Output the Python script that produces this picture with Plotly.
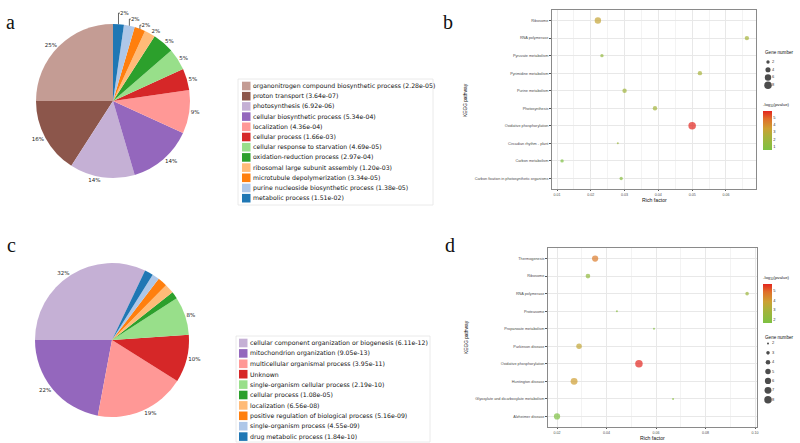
import numpy as np
import plotly.graph_objects as go

W, H = 800, 443
def px(x): return x / W
def py(y): return 1 - y / H

# ---------------- data ----------------
# panel a (pie)
labels_a = ["organonitrogen compound biosynthetic process (2.28e-05)",
            "proton transport (3.64e-07)",
            "photosynthesis (6.92e-06)",
            "cellular biosynthetic process (5.34e-04)",
            "localization (4.36e-04)",
            "cellular process (1.66e-03)",
            "cellular response to starvation (4.69e-05)",
            "oxidation-reduction process (2.97e-04)",
            "ribosomal large subunit assembly (1.20e-03)",
            "microtubule depolymerization (3.34e-05)",
            "purine nucleoside biosynthetic process (1.38e-05)",
            "metabolic process (1.51e-02)"]
values_a = [11, 7, 6, 6, 4, 2, 2, 2, 1, 1, 1, 1]
colors_a = ["#c49c94", "#8c564b", "#c5b0d5", "#9467bd", "#ff9896", "#d62728",
            "#98df8a", "#2ca02c", "#ffbb78", "#ff7f0e", "#aec7e8", "#1f77b4"]

# panel c (pie)
labels_c = ["cellular component organization or biogenesis (6.11e-12)",
            "mitochondrion organization (9.05e-13)",
            "multicellular organismal process (3.95e-11)",
            "Unknown",
            "single-organism cellular process (2.19e-10)",
            "cellular process (1.08e-05)",
            "localization (6.56e-08)",
            "positive regulation of biological process (5.16e-09)",
            "single-organism process (4.55e-09)",
            "drug metabolic process (1.84e-10)"]
values_c = [32, 22, 19, 10, 8, 1.5, 2.0, 2.0, 1.5, 1.8]
colors_c = ["#c5b0d5", "#9467bd", "#ff9896", "#d62728", "#98df8a",
            "#2ca02c", "#ffbb78", "#ff7f0e", "#aec7e8", "#1f77b4"]

# panel b (KEGG bubble)
pathways_b = ["Ribosome", "RNA polymerase", "Pyruvate metabolism", "Pyrimidine metabolism",
              "Purine metabolism", "Photosynthesis", "Oxidative phosphorylation",
              "Circadian rhythm - plant", "Carbon metabolism",
              "Carbon fixation in photosynthetic organisms"]
rich_b = [0.0221, 0.0662, 0.0233, 0.0523, 0.0300, 0.0390, 0.0500, 0.0280, 0.0115, 0.0290]
genes_b = [6, 3, 2, 3, 3, 3, 8, 1, 2, 2]
logp_b = [3.2, 2.2, 1.5, 2.3, 2.0, 2.1, 5.9, 1.8, 0.5, 1.0]
size_breaks_b = [2, 4, 6, 8]

# panel d (KEGG bubble)
pathways_d = ["Thermogenesis", "Ribosome", "RNA polymerase", "Proteasome",
              "Propanoate metabolism", "Parkinson disease", "Oxidative phosphorylation",
              "Huntington disease", "Glyoxylate and dicarboxylate metabolism",
              "Alzheimer disease"]
rich_d = [0.0354, 0.0325, 0.0968, 0.0442, 0.0592, 0.0289, 0.0531, 0.0269, 0.0669, 0.0200]
genes_d = [6, 4, 3, 2, 2, 5, 8, 7, 2, 6]
logp_d = [4.6, 2.3, 2.6, 2.0, 1.8, 3.6, 5.7, 3.9, 2.0, 1.6]
size_breaks_d = [2, 3, 4, 5, 6, 7, 8]

# ---------------- styling ----------------
cscale = [[0.0, "#7DC142"], [0.35, "#A9B13A"], [0.55, "#CDA032"],
          [0.8, "#E06E2A"], [1.0, "#E3261F"]]
FONT = "Liberation Sans"

def dot_size(n, nmin, nmax, dmin=2.0, dmax=7.5):
    n = np.asarray(n, dtype=float)
    area = dmin ** 2 + (n - nmin) / (nmax - nmin) * (dmax ** 2 - dmin ** 2)
    return np.sqrt(area)

fig = go.Figure()

# ---------------- pies ----------------
fig.add_trace(go.Pie(labels=labels_a, values=values_a, sort=False,
                     direction="counterclockwise", rotation=-90,
                     marker=dict(colors=colors_a, line=dict(width=0)),
                     textposition="outside", texttemplate="%{percent:.0%}",
                     textfont=dict(size=5.5, color="#222", family="DejaVu Sans"),
                     domain=dict(x=[px(36), px(190)], y=[py(178), py(24)]),
                     showlegend=False, hoverinfo="skip"))

pos_c = ["outside" if v >= 5 else "none" for v in values_c]
fig.add_trace(go.Pie(labels=labels_c, values=values_c, sort=False,
                     direction="counterclockwise", rotation=-90,
                     marker=dict(colors=colors_c, line=dict(width=0)),
                     textposition=pos_c, texttemplate="%{percent:.0%}",
                     textfont=dict(size=5.5, color="#222", family="DejaVu Sans"),
                     domain=dict(x=[px(35), px(189)], y=[py(417), py(263)]),
                     showlegend=False, hoverinfo="skip"))

shapes = []
annotations = []

def pie_legend(labels, colors, x0, y0, step, frame):
    fx0, fy0, fx1, fy1 = frame
    shapes.append(dict(type="rect", xref="paper", yref="paper",
                       x0=px(fx0), x1=px(fx1), y0=py(fy1), y1=py(fy0),
                       line=dict(color="#e4e4e4", width=0.8), fillcolor="rgba(0,0,0,0)"))
    for i, (lab, col) in enumerate(zip(labels, colors)):
        yc = y0 + i * step
        shapes.append(dict(type="rect", xref="paper", yref="paper",
                           x0=px(x0), x1=px(x0 + 8.5), y0=py(yc + 4.3), y1=py(yc - 4.3),
                           line=dict(width=0), fillcolor=col))
        annotations.append(dict(x=px(x0 + 9), y=py(yc), xref="paper", yref="paper",
                                text=lab, showarrow=False, xanchor="left", yanchor="middle",
                                font=dict(size=6.2, color="#111", family="DejaVu Sans")))

pie_legend(labels_a, colors_a, 242, 86, 10.2, (238, 79, 433, 205))
pie_legend(labels_c, colors_c, 239, 343, 10.4, (236, 336, 430, 442))

# ---------------- bubble plots ----------------
sz_b = dot_size(genes_b, min(genes_b), max(genes_b))
sz_d = dot_size(genes_d, min(genes_d), max(genes_d))

def cbar(ytop, tickvals):
    return dict(x=px(763), xanchor="left", y=py(ytop), yanchor="top",
                len=50, lenmode="pixels", thickness=9, xpad=0, ypad=0,
                outlinewidth=0, tickvals=tickvals, ticks="",
                tickfont=dict(size=4, color="#333", family=FONT),
                title=dict(text="-log<sub>10</sub>(pvalue)", side="top",
                           font=dict(size=4.3, color="#222", family=FONT)))

fig.add_trace(go.Scatter(
    x=rich_b, y=pathways_b, mode="markers", xaxis="x", yaxis="y",
    marker=dict(size=sz_b, sizemode="diameter", color=logp_b, colorscale=cscale,
                cmin=min(logp_b), cmax=max(logp_b), line=dict(width=0),
                colorbar=cbar(100, [1, 2, 3, 4, 5])),
    showlegend=False, hoverinfo="skip"))

fig.add_trace(go.Scatter(
    x=rich_d, y=pathways_d, mode="markers", xaxis="x2", yaxis="y2",
    marker=dict(size=sz_d, sizemode="diameter", color=logp_d, colorscale=cscale,
                cmin=min(logp_d), cmax=max(logp_d), line=dict(width=0),
                colorbar=cbar(273, [2, 3, 4, 5])),
    showlegend=False, hoverinfo="skip"))

# size legends
fig.add_trace(go.Scatter(x=[8] * len(size_breaks_b), y=size_breaks_b, mode="markers",
                         xaxis="x3", yaxis="y3",
                         marker=dict(size=dot_size(size_breaks_b, min(genes_b), max(genes_b)),
                                     color="black", line=dict(width=0)),
                         showlegend=False, hoverinfo="skip"))
fig.add_trace(go.Scatter(x=[12] * len(size_breaks_b), y=size_breaks_b, mode="text",
                         text=[str(v) for v in size_breaks_b], textposition="middle right",
                         textfont=dict(size=4, color="#333", family=FONT),
                         xaxis="x3", yaxis="y3", showlegend=False, hoverinfo="skip"))
fig.add_trace(go.Scatter(x=[8] * len(size_breaks_d), y=size_breaks_d, mode="markers",
                         xaxis="x4", yaxis="y4",
                         marker=dict(size=dot_size(size_breaks_d, min(genes_d), max(genes_d)),
                                     color="black", line=dict(width=0)),
                         showlegend=False, hoverinfo="skip"))
fig.add_trace(go.Scatter(x=[12] * len(size_breaks_d), y=size_breaks_d, mode="text",
                         text=[str(v) for v in size_breaks_d], textposition="middle right",
                         textfont=dict(size=4, color="#333", family=FONT),
                         xaxis="x4", yaxis="y4", showlegend=False, hoverinfo="skip"))

def xax(domain, rng, dtick, anchor):
    return dict(domain=domain, range=rng, dtick=dtick, anchor=anchor, tickformat=".2f",
                showgrid=True, gridcolor="#e8e8e8", gridwidth=0.6,
                minor=dict(dtick=dtick / 2, showgrid=True, gridcolor="#f3f3f3", gridwidth=0.4),
                showline=True, linecolor="#8a8a8a", linewidth=0.7, mirror=True,
                ticks="outside", ticklen=1.5, tickwidth=0.5, tickcolor="#555",
                tickfont=dict(size=3.6, color="#4d4d4d", family=FONT),
                zeroline=False, automargin=False)

def yax(domain, cats, anchor):
    return dict(domain=domain, type="category", categoryorder="array", categoryarray=cats,
                range=[len(cats) - 0.4, -0.6], anchor=anchor,
                showgrid=True, gridcolor="#e8e8e8", gridwidth=0.6,
                showline=True, linecolor="#8a8a8a", linewidth=0.7, mirror=True,
                ticks="outside", ticklen=2, tickwidth=0.5, tickcolor="#555",
                tickfont=dict(size=3.8, color="#4d4d4d", family=FONT),
                zeroline=False, automargin=False)

hidden = dict(visible=False, showgrid=False, zeroline=False, automargin=False)

def note(text, x, y, size, family=FONT, angle=0, xanchor="center"):
    annotations.append(dict(x=px(x), y=py(y), xref="paper", yref="paper", text=text,
                            showarrow=False, xanchor=xanchor, yanchor="middle",
                            textangle=angle,
                            font=dict(size=size, color="#111", family=family)))

# axis titles
note("Rich factor", 654, 200, 5.2)
note("Rich factor", 652, 437.5, 5.2)
note("KEGG pathway", 466, 100, 4.8, angle=-90)
note("KEGG pathway", 466, 337, 4.8, angle=-90)
# panel letters
note("a", 10, 22, 20, "Liberation Serif")
note("b", 448, 22, 20, "Liberation Serif")
note("c", 11, 245, 20, "Liberation Serif")
note("d", 450, 245, 20, "Liberation Serif")
# gene number titles
note("Gene number", 763, 52, 4.6, xanchor="left")
note("Gene number", 763, 337, 4.6, xanchor="left")

fig.update_layout(
    width=W, height=H, margin=dict(l=0, r=0, t=0, b=0),
    paper_bgcolor="white", plot_bgcolor="white",
    xaxis=xax([px(552), px(756)], [0.00852, 0.0689], 0.01, "y"),
    yaxis=yax([py(189), py(10)], pathways_b, "x"),
    xaxis2=xax([px(548), px(757)], [0.01636, 0.1008], 0.02, "y2"),
    yaxis2=yax([py(427), py(248)], pathways_d, "x2"),
    xaxis3=dict(domain=[px(760), px(795)], range=[0, 35], anchor="y3", **hidden),
    yaxis3=dict(domain=[py(89), py(58.2)], range=[9, 1], anchor="x3", **hidden),
    xaxis4=dict(domain=[px(760), px(795)], range=[0, 35], anchor="y4", **hidden),
    yaxis4=dict(domain=[py(404.4), py(338.8)], range=[8.5, 1.5], anchor="x4", **hidden),
    shapes=shapes, annotations=annotations,
)

fig.write_html("out.html", config={"displayModeBar": False},
               post_script="document.body.style.margin='0';document.body.style.padding='0';")
